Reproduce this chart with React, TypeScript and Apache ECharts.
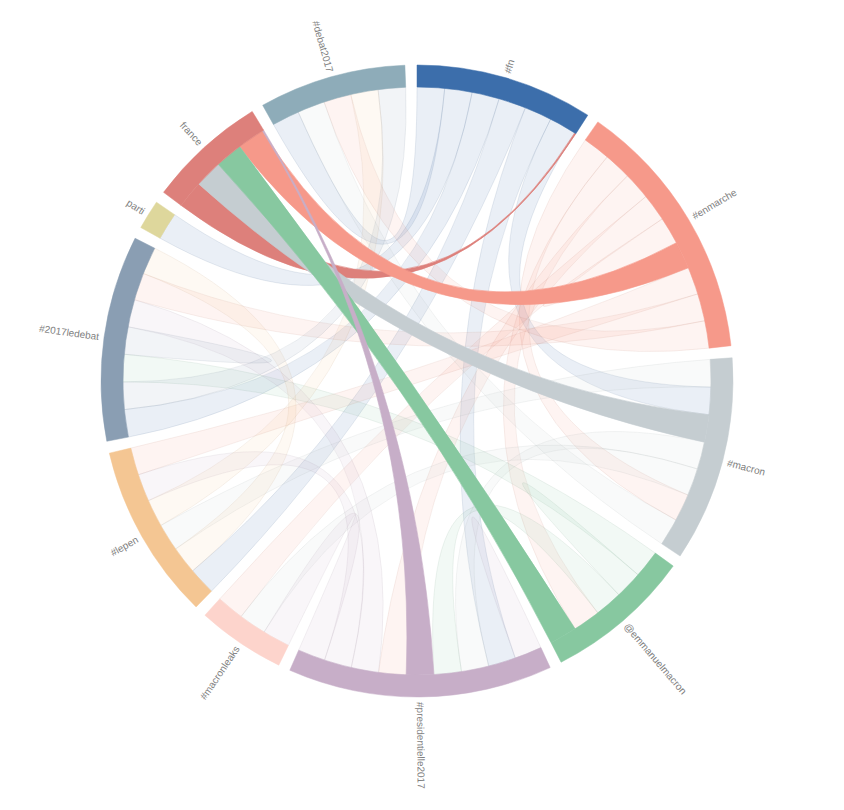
import React, { useEffect, useRef } from "react";
import * as echarts from "echarts";

// Groups, in clockwise order starting at 12 o'clock
const NAMES = [
  "#fn",
  "#enmarche",
  "#macron",
  "@emmanuelmacron",
  "#presidentielle2017",
  "#macronleaks",
  "#lepen",
  "#2017ledebat",
  "parti",
  "france",
  "#debat2017",
];
const COLORS = [
  "#3c6eab",
  "#f6998a",
  "#c5cdd1",
  "#87c8a0",
  "#c7aec8",
  "#fdd4cc",
  "#f4c693",
  "#8a9eb3",
  "#ded79c",
  "#dd807b",
  "#8eacb9",
];

// Chords: [dominant group, value at its end, other group, value at other end]
const CHORDS: [string, number, string, number][] = [
  ["#fn", 1, "#debat2017", 1],
  ["#fn", 1, "parti", 1],
  ["#fn", 1, "#2017ledebat", 1],
  ["#fn", 1, "#lepen", 1],
  ["#fn", 1, "#presidentielle2017", 1],
  ["#fn", 1, "#macron", 1],
  ["france", 1, "#fn", 0.05],
  ["#enmarche", 1, "france", 1],
  ["#macron", 1, "france", 1],
  ["@emmanuelmacron", 1, "france", 1],
  ["#presidentielle2017", 1, "france", 0.05],
  ["#enmarche", 1, "#macron", 1],
  ["#enmarche", 1, "@emmanuelmacron", 1],
  ["#enmarche", 1, "#presidentielle2017", 1],
  ["#enmarche", 1, "#macronleaks", 1],
  ["#enmarche", 1, "#lepen", 1],
  ["#enmarche", 1, "#2017ledebat", 1],
  ["#enmarche", 1, "#debat2017", 1],
  ["#enmarche", 1, "#enmarche", 1],
  ["#macron", 1, "#presidentielle2017", 1],
  ["#macron", 1, "#macronleaks", 1],
  ["#macron", 1, "#lepen", 1],
  ["#macron", 1, "#debat2017", 1],
  ["@emmanuelmacron", 1, "#presidentielle2017", 1],
  ["@emmanuelmacron", 1, "#2017ledebat", 1],
  ["@emmanuelmacron", 1, "@emmanuelmacron", 1],
  ["#presidentielle2017", 1, "#macronleaks", 1],
  ["#presidentielle2017", 1, "#lepen", 1],
  ["#presidentielle2017", 1, "#2017ledebat", 1],
  ["#presidentielle2017", 1, "#presidentielle2017", 1],
  ["#lepen", 1, "#2017ledebat", 1],
  ["#lepen", 1, "#debat2017", 1],
  ["#2017ledebat", 1, "#debat2017", 1],
  ["#2017ledebat", 1, "#2017ledebat", 1],
];

// Clockwise order of each group's partners along its arc
const ORDER: Record<string, string[]> = {
  "#fn": ["#debat2017", "parti", "#2017ledebat", "#lepen", "#presidentielle2017", "#macron", "france"],
  "#enmarche": ["#macron", "@emmanuelmacron", "#presidentielle2017", "#macronleaks", "#enmarche", "france", "#lepen", "#2017ledebat", "#debat2017"],
  "#macron": ["#lepen", "#fn", "france", "#presidentielle2017", "#macronleaks", "#enmarche", "#debat2017"],
  "@emmanuelmacron": ["#2017ledebat", "@emmanuelmacron", "#presidentielle2017", "#enmarche", "france"],
  "#presidentielle2017": ["#presidentielle2017", "#fn", "#macron", "@emmanuelmacron", "france", "#enmarche", "#2017ledebat", "#lepen", "#macronleaks"],
  "#macronleaks": ["#presidentielle2017", "#macron", "#enmarche"],
  "#lepen": ["#fn", "#2017ledebat", "#macron", "#debat2017", "#presidentielle2017", "#enmarche"],
  "#2017ledebat": ["#fn", "#debat2017", "@emmanuelmacron", "#2017ledebat", "#presidentielle2017", "#enmarche", "#lepen"],
  "parti": ["#fn"],
  "france": ["#fn", "#macron", "@emmanuelmacron", "#enmarche", "#presidentielle2017"],
  "#debat2017": ["#fn", "#macron", "#enmarche", "#lepen", "#2017ledebat"],
};

const FOCUS = "france";

function darker(hex: string, f: number) {
  const n = parseInt(hex.slice(1), 16);
  const r = Math.round(((n >> 16) & 255) * f);
  const g = Math.round(((n >> 8) & 255) * f);
  const b = Math.round((n & 255) * f);
  return `rgb(${r},${g},${b})`;
}

export default function App() {
  const ref = useRef<HTMLDivElement>(null);
  useEffect(() => {
    const chart = echarts.init(ref.current!, undefined, { renderer: "svg" });

    const CX = 417;
    const CY = 381;
    const R_IN = 294;
    const R_OUT = 316;
    const R_LABEL = 321;
    const PAD = (2.2 * Math.PI) / 180;
    const n = NAMES.length;
    const idx = (s: string) => NAMES.indexOf(s);

    const M: number[][] = NAMES.map(() => NAMES.map(() => 0));
    CHORDS.forEach(([a, va, b, vb]) => {
      M[idx(a)][idx(b)] = va;
      M[idx(b)][idx(a)] = vb;
    });
    const total = M.reduce((s, row) => s + row.reduce((t, v) => t + v, 0), 0);
    const k = (2 * Math.PI - n * PAD) / total;

    const groups: { a0: number; a1: number }[] = [];
    const sub: Record<string, [number, number]> = {};
    let x = 0;
    for (let i = 0; i < n; i++) {
      const g0 = x;
      for (const p of ORDER[NAMES[i]]) {
        const j = idx(p);
        const a0 = x;
        x += M[i][j] * k;
        sub[i + "_" + j] = [a0, x];
      }
      groups.push({ a0: g0, a1: x });
      x += PAD;
    }

    const P = (a: number, r: number) => [CX + r * Math.sin(a), CY - r * Math.cos(a)];
    const arcTo = (a0: number, a1: number) => {
      const [x1, y1] = P(a1, R_IN);
      return `A${R_IN},${R_IN} 0 ${a1 - a0 > Math.PI ? 1 : 0} 1 ${x1.toFixed(2)},${y1.toFixed(2)}`;
    };
    const ribbons = CHORDS.map(([a, , b]) => {
      const i = idx(a);
      const j = idx(b);
      const s = sub[i + "_" + j];
      const t = sub[j + "_" + i];
      const [x0, y0] = P(s[0], R_IN);
      let d = `M${x0.toFixed(2)},${y0.toFixed(2)}` + arcTo(s[0], s[1]);
      if (i !== j) {
        const [u0, v0] = P(t[0], R_IN);
        d += `Q${CX},${CY} ${u0.toFixed(2)},${v0.toFixed(2)}` + arcTo(t[0], t[1]);
      }
      d += `Q${CX},${CY} ${x0.toFixed(2)},${y0.toFixed(2)}Z`;
      const focus = a === FOCUS || b === FOCUS;
      return { d, color: COLORS[i], focus };
    });
    const drawOrder = ribbons
      .map((r, i) => i)
      .sort((p, q) => Number(ribbons[p].focus) - Number(ribbons[q].focus));

    chart.setOption({
      animation: false,
      series: [
        {
          type: "custom",
          coordinateSystem: "none",
          silent: true,
          data: drawOrder.map((i) => [i]),
          renderItem: (params: any) => {
            const rb = ribbons[drawOrder[params.dataIndex]];
            return {
              type: "path",
              shape: { pathData: rb.d },
              style: rb.focus
                ? { fill: rb.color, stroke: rb.color, lineWidth: 0.6, opacity: 1 }
                : { fill: rb.color, stroke: darker(rb.color, 0.75), lineWidth: 1, opacity: 0.11 },
            };
          },
        },
        {
          type: "custom",
          coordinateSystem: "none",
          silent: true,
          data: NAMES.map((_, i) => [i]),
          renderItem: (params: any) => {
            const i = params.dataIndex;
            const g = groups[i];
            const mid = (g.a0 + g.a1) / 2;
            const [lx, ly] = P(mid, R_LABEL);
            const right = mid < Math.PI;
            const rotation = right ? -(mid - Math.PI / 2) : 1.5 * Math.PI - mid;
            return {
              type: "group",
              children: [
                {
                  type: "sector",
                  shape: {
                    cx: CX,
                    cy: CY,
                    r0: R_IN,
                    r: R_OUT,
                    startAngle: g.a0 - Math.PI / 2,
                    endAngle: g.a1 - Math.PI / 2,
                    clockwise: true,
                  },
                  style: { fill: COLORS[i], stroke: COLORS[i], lineWidth: 0.5 },
                },
                {
                  type: "text",
                  x: lx,
                  y: ly,
                  rotation,
                  style: {
                    text: NAMES[i],
                    fill: "#808080",
                    fontSize: 10,
                    fontFamily: "'Liberation Sans', Arial, sans-serif",
                    align: right ? "left" : "right",
                    verticalAlign: "middle",
                  },
                },
              ],
            };
          },
        },
      ],
    });
    return () => chart.dispose();
  }, []);
  return (
    <div
      ref={ref}
      style={{ position: "absolute", left: 0, top: 0, width: 844, height: 810 }}
    />
  );
}
